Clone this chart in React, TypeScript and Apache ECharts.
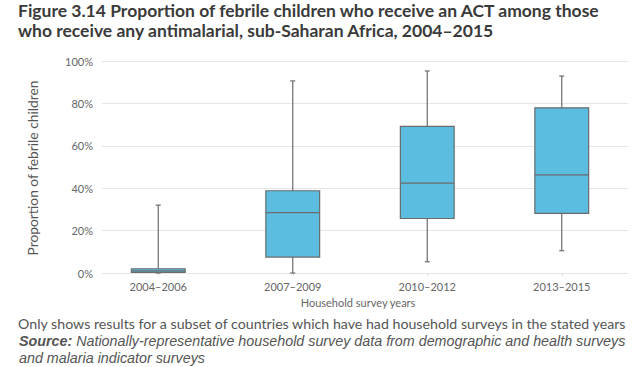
import React, { useEffect, useRef } from "react";
import * as echarts from "echarts";

const categories = ["2004–2006", "2007–2009", "2010–2012", "2013–2015"];
// [min, Q1, median, Q3, max] in %
const boxValues = [
  [0, 0.3, 1, 2, 32],
  [0, 7.5, 28.5, 38.8, 90.6],
  [5.3, 25.7, 42.4, 69.2, 95.3],
  [10.5, 28.1, 46.3, 77.9, 92.9],
];
const yTicks = [0, 20, 40, 60, 80, 100];

const titleLines = [
  "Figure 3.14 Proportion of febrile children who receive an ACT among those",
  "who receive any antimalarial, sub-Saharan Africa, 2004–2015",
];
const yAxisTitle = "Proportion of febrile children";
const xAxisTitle = "Household survey years";
const noteText = "Only shows results for a subset of countries which have had household surveys in the stated years";
const sourceLabel = "Source:";
const sourceText = " Nationally-representative household survey data from demographic and health surveys";
const sourceText2 = "and malaria indicator surveys";

export default function App() {
  const ref = useRef<HTMLDivElement>(null);
  useEffect(() => {
    if (!ref.current) return;
    const chart = echarts.init(ref.current, null, { renderer: "svg" });
    const font = "Lato, 'Noto Sans', sans-serif";
    const font2 = "'Liberation Sans', Arial, sans-serif";
    chart.setOption({
      animation: false,
      backgroundColor: "#ffffff",
      textStyle: { fontFamily: font },
      grid: [
        { left: 102, right: 9, top: 61, bottom: 94 },
        { left: 91, right: 8, top: 61, bottom: 94 },
      ],
      xAxis: [
        { type: "value", gridIndex: 0, show: false, min: 0, max: 1 },
        {
          type: "category",
          gridIndex: 1,
          data: categories,
          axisLine: { show: false },
          axisTick: { show: true, alignWithLabel: true, length: 3, lineStyle: { color: "#dcdcdc" } },
          axisLabel: { color: "#666", fontSize: 11, margin: 8, fontFamily: font },
        },
      ],
      yAxis: [
        {
          type: "value",
          gridIndex: 0,
          min: yTicks[0],
          max: yTicks[yTicks.length - 1],
          interval: 20,
          axisLine: { show: false },
          axisTick: { show: false },
          axisLabel: { color: "#666", fontSize: 11, margin: 9, formatter: "{value}%", fontFamily: font },
          splitLine: { lineStyle: { color: "#e6e6e6", width: 1 } },
        },
        {
          type: "value",
          gridIndex: 1,
          min: yTicks[0],
          max: yTicks[yTicks.length - 1],
          interval: 20,
          show: false,
          splitLine: { show: false },
        },
      ],
      series: [
        {
          type: "custom",
          xAxisIndex: 1,
          yAxisIndex: 1,
          data: boxValues.map((v, i) => [i, ...v]),
          encode: { x: 0, y: [1, 2, 3, 4, 5] },
          renderItem: (params: any, api: any) => {
            const idx = api.value(0);
            const vals = [1, 2, 3, 4, 5].map((d) => api.value(d));
            const pts = vals.map((v) => api.coord([idx, v]));
            const cx = pts[0][0];
            const band = api.size([1, 0])[0];
            const half = band * 0.2;
            const cap = 2.5;
            const stroke = "#6b6b6b";
            const ls = { stroke, lineWidth: 1.2, fill: null };
            return {
              type: "group",
              children: [
                { type: "line", shape: { x1: cx, y1: pts[4][1], x2: cx, y2: pts[0][1] }, style: ls },
                { type: "line", shape: { x1: cx - cap, y1: pts[4][1], x2: cx + cap, y2: pts[4][1] }, style: ls },
                { type: "line", shape: { x1: cx - cap, y1: pts[0][1], x2: cx + cap, y2: pts[0][1] }, style: ls },
                {
                  type: "rect",
                  shape: { x: cx - half, y: pts[3][1], width: half * 2, height: pts[1][1] - pts[3][1] },
                  style: { fill: "#5bbde0", stroke, lineWidth: 1.2 },
                },
                { type: "line", shape: { x1: cx - half, y1: pts[2][1], x2: cx + half, y2: pts[2][1] }, style: ls },
              ],
            };
          },
        },
      ],
      graphic: [
        {
          type: "text",
          x: 18,
          y: 10,
          style: {
            text: titleLines[0],
            font: `bold 17.5px ${font}`,
            fill: "#3a3a3a",
            verticalAlign: "middle",
          },
        },
        {
          type: "text",
          x: 18,
          y: 30,
          style: {
            text: titleLines[1],
            font: `bold 17.5px ${font}`,
            fill: "#3a3a3a",
            verticalAlign: "middle",
          },
        },
        {
          type: "text",
          x: 32,
          y: 168,
          rotation: Math.PI / 2,
          style: {
            text: yAxisTitle,
            font: `13.8px ${font}`,
            fill: "#555",
            align: "center",
            verticalAlign: "middle",
          },
        },
        {
          type: "text",
          x: 358,
          y: 302,
          style: { text: xAxisTitle, font: `11px ${font}`, fill: "#666", align: "center", verticalAlign: "middle" },
        },
        {
          type: "text",
          x: 18,
          y: 323,
          style: { text: noteText, font: `14.2px ${font}`, fill: "#555", verticalAlign: "middle", lineHeight: 16 },
        },
        {
          type: "text",
          x: 19,
          y: 340.5,
          style: {
            text: `{b|${sourceLabel}}{i|${sourceText}}`,
            verticalAlign: "middle",
            rich: {
              b: { font: `italic bold 14.3px ${font2}`, fill: "#555", color: "#555", lineHeight: 16 },
              i: { font: `italic 14.3px ${font2}`, fill: "#555", color: "#555", lineHeight: 16 },
            },
          },
        },
        {
          type: "text",
          x: 19,
          y: 358,
          style: { text: sourceText2, font: `italic 14.3px ${font2}`, fill: "#555", verticalAlign: "middle", lineHeight: 16 },
        },
      ],
    });
    return () => chart.dispose();
  }, []);
  return <div ref={ref} style={{ width: 637, height: 367, position: "absolute", left: 0, top: 0 }} />;
}
